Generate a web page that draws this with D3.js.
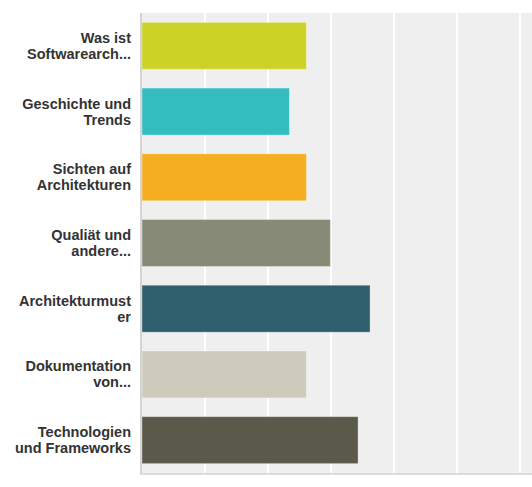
<!DOCTYPE html>
<html>
<head>
<meta charset="utf-8">
<script src="https://cdn.jsdelivr.net/npm/d3@7"></script>
<style>
  html, body { margin: 0; padding: 0; background: #fff; }
  svg { display: block; }
</style>
</head>
<body>
<svg id="chart" width="532" height="487"></svg>
<script>
const categories = [
  ["Was ist", "Softwarearch..."],
  ["Geschichte und", "Trends"],
  ["Sichten auf", "Architekturen"],
  ["Qualiät und", "andere..."],
  ["Architekturmust", "er"],
  ["Dokumentation", "von..."],
  ["Technologien", "und Frameworks"]
];
const values = [26.1, 23.4, 26.1, 29.9, 36.2, 26.1, 34.3];
const colors = ["#cdd326", "#33bdbf", "#f5ae1f", "#888a78", "#2e5f6c", "#cecbbd", "#5b5a4a"];
const ticks = [0, 10, 20, 30, 40, 50, 60, 70, 80, 90, 100];

const svg = d3.select("#chart");
const margin = { left: 142, top: 13, bottom: 14 };
const plotW = 630, plotH = 487 - margin.top - margin.bottom;

const x = d3.scaleLinear().domain([0, 100]).range([0, plotW]);
const y = d3.scaleBand().domain(d3.range(categories.length)).range([0, plotH])
  .paddingInner(0.285).paddingOuter(0.1425);

const g = svg.append("g").attr("transform", `translate(${margin.left},${margin.top})`);

g.append("rect").attr("x", 0).attr("y", 0).attr("width", plotW).attr("height", plotH).attr("fill", "#efefef");

g.selectAll("line.grid").data(ticks.slice(1)).enter().append("line")
  .attr("class", "grid")
  .attr("x1", d => x(d)).attr("x2", d => x(d))
  .attr("y1", 0).attr("y2", plotH)
  .attr("stroke", "#ffffff").attr("stroke-width", 2);

g.selectAll("rect.bar").data(values).enter().append("rect")
  .attr("class", "bar")
  .attr("x", 0)
  .attr("y", (d, i) => y(i))
  .attr("width", d => x(d))
  .attr("height", y.bandwidth())
  .attr("fill", (d, i) => colors[i])
  .attr("stroke", "rgba(255,255,255,0.35)")
  .attr("stroke-width", 1);

// axes lines
g.append("line").attr("x1", -1).attr("x2", -1).attr("y1", 0).attr("y2", plotH + 1)
  .attr("stroke", "#d4d4d4").attr("stroke-width", 2);
g.append("line").attr("x1", -2).attr("x2", plotW).attr("y1", plotH + 1).attr("y2", plotH + 1)
  .attr("stroke", "#dcdcdc").attr("stroke-width", 2);

const labels = g.selectAll("text.lab").data(categories).enter().append("text")
  .attr("class", "lab")
  .attr("x", -11)
  .attr("y", (d, i) => y(i) + y.bandwidth() / 2)
  .attr("text-anchor", "end")
  .attr("font-family", "'Liberation Sans', Arial, sans-serif")
  .attr("font-weight", "bold")
  .attr("font-size", "14.5px")
  .attr("fill", "#333333");
labels.each(function(d) {
  const t = d3.select(this);
  d.forEach((line, k) => {
    t.append("tspan").attr("x", -11)
      .attr("dy", k === 0 ? (-(d.length - 1) * 16 / 2 + 5) : 16)
      .text(line);
  });
});
</script>
</body>
</html>
